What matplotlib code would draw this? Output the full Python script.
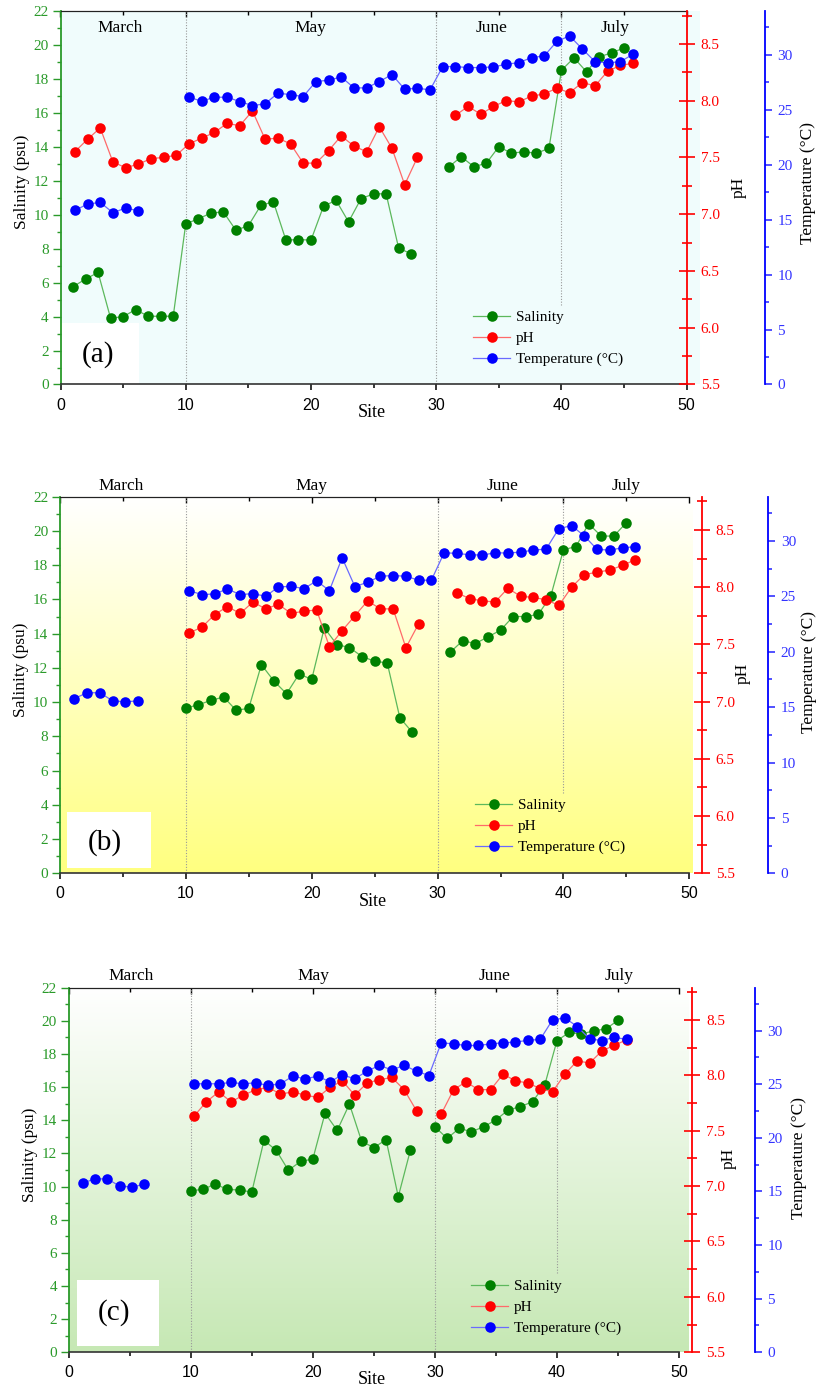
import numpy as np
import matplotlib
matplotlib.use("Agg")
import matplotlib.pyplot as plt
from matplotlib.ticker import MultipleLocator, FormatStrFormatter
from matplotlib.patches import Rectangle
from matplotlib.lines import Line2D

plt.rcParams['font.family'] = ['Liberation Serif', 'DejaVu Serif']

# each series is a list of runs: (first site, values); separate runs are not joined by a line
a_salinity = [(1, [5.76, 6.21, 6.60, 3.90, 4.00, 4.41, 4.02, 4.02, 4.02,
                   9.46, 9.76, 10.09, 10.17, 9.09, 9.35, 10.56, 10.76, 8.50, 8.54, 8.50,
                   10.50, 10.85, 9.58, 10.95, 11.23, 11.23, 8.03, 7.70]),
              (31, [12.81, 13.42, 12.83, 13.03, 14.01, 13.62, 13.71, 13.62, 13.91,
                    18.51, 19.24, 18.42, 19.30, 19.53, 19.83])]
a_ph = [(1, [7.55, 7.66, 7.76, 7.46, 7.41, 7.44, 7.49, 7.50, 7.52,
             7.62, 7.67, 7.72, 7.80, 7.78, 7.91, 7.66, 7.67, 7.62, 7.45, 7.45,
             7.56, 7.69, 7.60, 7.55, 7.77, 7.58, 7.26, 7.50]),
        (31, [7.87, 7.95, 7.88, 7.95, 8.00, 7.99, 8.04, 8.06, 8.11, 8.07,
              8.16, 8.13, 8.26, 8.31, 8.33])]
a_temp = [(1, [15.85, 16.42, 16.58, 15.64, 16.06, 15.82]),
          (10, [26.15, 25.79, 26.15, 26.15, 25.76, 25.39, 25.55, 26.52, 26.39, 26.21,
                27.58, 27.70, 28.00, 27.00, 27.00, 27.58, 28.21, 26.88, 26.97, 26.82,
                28.94, 28.94, 28.85, 28.85, 28.91, 29.15, 29.30, 29.76, 29.91, 31.24,
                31.73, 30.55, 29.39, 29.27, 29.39, 30.06])]

b_salinity = [(10, [9.65, 9.85, 10.10, 10.30, 9.52, 9.64, 12.19, 11.23, 10.49, 11.64,
                    11.33, 14.34, 13.36, 13.19, 12.66, 12.39, 12.29, 9.09, 8.23]),
              (31, [12.91, 13.59, 13.42, 13.81, 14.20, 15.00, 15.00, 15.12, 16.21,
                    18.90, 19.09, 20.42, 19.70, 19.70, 20.48])]
b_ph = [(10, [7.60, 7.65, 7.76, 7.83, 7.77, 7.87, 7.81, 7.85, 7.77, 7.79,
              7.80, 7.48, 7.62, 7.75, 7.88, 7.81, 7.81, 7.47, 7.68]),
        (31, [7.95, 7.90, 7.88, 7.87, 7.99, 7.92, 7.91, 7.89, 7.84, 8.00,
              8.11, 8.13, 8.15, 8.19, 8.24])]
b_temp = [(1, [15.78, 16.30, 16.30, 15.57, 15.48, 15.57]),
          (10, [25.52, 25.16, 25.22, 25.67, 25.16, 25.25, 25.01, 25.85, 25.91, 25.70,
                26.40, 25.52, 28.49, 25.88, 26.28, 26.82, 26.88, 26.82, 26.46, 26.46,
                28.94, 28.88, 28.76, 28.73, 28.94, 28.91, 29.00, 29.18, 29.27, 31.12,
                31.39, 30.45, 29.24, 29.18, 29.39, 29.48])]

c_salinity = [(10, [9.75, 9.83, 10.15, 9.83, 9.79, 9.67, 12.79, 12.19, 10.98, 11.52,
                    11.66, 14.42, 13.39, 14.98, 12.73, 12.35, 12.83, 9.39, 12.21]),
              (30, [13.61, 12.91, 13.51, 13.31, 13.61, 14.02, 14.62, 14.82, 15.12, 16.13,
                    18.80, 19.30, 19.20, 19.40, 19.51, 20.03])]
c_ph = [(10, [7.63, 7.76, 7.85, 7.76, 7.82, 7.87, 7.89, 7.83, 7.85, 7.82,
              7.80, 7.89, 7.95, 7.82, 7.93, 7.96, 7.98, 7.87, 7.68]),
        (30, [7.65, 7.87, 7.94, 7.87, 7.87, 8.01, 7.95, 7.93, 7.88, 7.85,
              8.01, 8.13, 8.11, 8.22, 8.27, 8.32])]
c_temp = [(1, [15.79, 16.17, 16.17, 15.49, 15.42, 15.67]),
          (10, [25.04, 25.04, 25.04, 25.16, 25.04, 25.13, 24.88, 25.04, 25.75, 25.50,
                25.75, 25.22, 25.88, 25.50, 26.22, 26.75, 26.34, 26.75, 26.22, 25.81,
                28.86, 28.76, 28.61, 28.61, 28.76, 28.86, 28.92, 29.10, 29.17, 31.00,
                31.18, 30.38, 29.23, 29.07, 29.38, 29.17])]

months = ["March", "May", "June", "July"]
month_bounds = [10, 30, 40]
series_names = ["Salinity", "pH", "Temperature (°C)"]

W, H = 817, 1387
SAL_C, PH_C, T_C = '#008000', '#ff0000', '#0000ff'
SAL_L, PH_L, T_L = '#5cb85c', '#ff6a6a', '#6a6aff'
AX_GREEN = '#2a9a2a'

# layout of each panel in pixels (label positions are glyph centres)
panels = [
    dict(data=(a_salinity, a_ph, a_temp), tag="(a)", box=(60.5, 11, 686.7, 384.5),
         bg='flat', bg_right=700, ph_x=686.7, t_x=765, sal_lab=(20, 182), ph_lab=(738, 187),
         t_lab=(806.7, 183), site_lab=(371.7, 411.7),
         tag_box=(61, 323, 139, 384.5), tag_xy=(98.3, 355), leg=(473, 315), marks_y=28,
         marks_x=(120, 310, 491.7, 615), last_line_from=305),
    dict(data=(b_salinity, b_ph, b_temp), tag="(b)", box=(60, 496.7, 689.3, 873.3),
         bg=(255, 255, 128), bg_right=693, ph_x=701.7, t_x=768.3, sal_lab=(19, 670),
         ph_lab=(741.7, 673.3), t_lab=(808, 671.7), site_lab=(373.3, 900.7),
         tag_box=(67, 811.7, 151, 867.7), tag_xy=(105, 843), leg=(475, 802.7), marks_y=486.5,
         marks_x=(121, 311.7, 502.7, 626), last_line_from=793),
    dict(data=(c_salinity, c_ph, c_temp), tag="(c)", box=(68.7, 987.7, 679, 1352.3),
         bg=(198, 232, 180), bg_right=688, ph_x=692.3, t_x=755, sal_lab=(28.3, 1155),
         ph_lab=(728, 1158.3), t_lab=(798, 1158.3), site_lab=(372.3, 1379.3),
         tag_box=(76.7, 1280, 159, 1346), tag_xy=(114, 1313), leg=(471, 1284), marks_y=976,
         marks_x=(131, 313.3, 494.3, 619.3), last_line_from=1273),
]
HALF_LABEL = 10  # half the height of an axis-title text box, px
HALF_LABEL_R = 7


def runs_to_xy(runs):
    xs, ys = [], []
    for start, vals in runs:
        if xs:
            xs.append(np.nan)
            ys.append(np.nan)
        xs.extend(range(start, start + len(vals)))
        ys.extend(vals)
    return np.array(xs, float), np.array(ys, float)


fig = plt.figure(figsize=(W / 100, H / 100), dpi=100)

for p in panels:
    l, t, r, b = p['box']
    rect = [l / W, (H - b) / H, (r - l) / W, (b - t) / H]

    def ax_xy(px, py):
        return (px - l) / (r - l), (b - py) / (b - t)

    # background
    bg_ax = fig.add_axes([l / W, (H - b) / H, (p['bg_right'] - l) / W, (b - t) / H], zorder=0)
    bg_ax.axis('off')
    if p['bg'] == 'flat':
        bg_ax.add_patch(Rectangle((0, 0), 1, 1, color='#f0fcfc', transform=bg_ax.transAxes))
    else:
        frac = np.linspace(0, 1, 256)[:, None, None]
        col = np.array(p['bg']) / 255.0
        grad = (1 - frac) * np.ones(3) + frac * col
        bg_ax.imshow(grad, aspect='auto', extent=[0, 1, 0, 1], transform=bg_ax.transAxes)
    bg_ax.set_xlim(0, 1)
    bg_ax.set_ylim(0, 1)

    sal, ph, temp = p['data']

    # salinity on the main layer
    ax = fig.add_axes(rect, zorder=1)
    ax.patch.set_visible(False)
    x, y = runs_to_xy(sal)
    ax.plot(x, y, '-', color=SAL_L, lw=0.9, zorder=3)
    ax.plot(x, y, 'o', color=SAL_C, ms=7.6, mec=SAL_C, mew=0, zorder=4)
    ax.set_xlim(0, 50)
    ax.set_ylim(0, 22)
    ax.spines['right'].set_visible(False)
    ax.spines['left'].set_color(AX_GREEN)
    ax.spines['left'].set_linewidth(1.3)
    ax.spines['top'].set_color('#222222')
    ax.spines['bottom'].set_color('#333333')
    ax.spines['bottom'].set_linewidth(1.2)
    ax.yaxis.set_major_locator(MultipleLocator(2))
    ax.yaxis.set_minor_locator(MultipleLocator(1))
    ax.xaxis.set_major_locator(MultipleLocator(10))
    ax.xaxis.set_minor_locator(MultipleLocator(5))
    ax.tick_params(axis='y', which='major', direction='out', length=5.5, width=1,
                   colors=AX_GREEN, labelsize=11, pad=3)
    ax.tick_params(axis='y', which='minor', direction='out', length=3, width=1, colors=AX_GREEN)
    ax.tick_params(axis='x', which='major', direction='out', length=4.5, width=1.1,
                   labelsize=11.5, pad=5, top=False)
    ax.tick_params(axis='x', which='minor', direction='out', length=3, width=1.1, top=False)
    for lab in ax.get_xticklabels():
        lab.set_fontfamily('Liberation Sans')
    top = ax.secondary_xaxis('top')
    top.xaxis.set_major_locator(MultipleLocator(10))
    top.xaxis.set_minor_locator(MultipleLocator(5))
    top.tick_params(which='major', direction='in', length=4, width=1, labeltop=False)
    top.tick_params(which='minor', direction='in', length=3, width=1)
    top.spines['top'].set_color('#222222')

    ax.set_ylabel("Salinity (psu)", fontsize=12.5)
    ax.yaxis.set_label_coords(*ax_xy(p['sal_lab'][0] + HALF_LABEL, p['sal_lab'][1]))
    ax.set_xlabel("Site", fontsize=13)
    ax.xaxis.set_label_coords(*ax_xy(p['site_lab'][0], p['site_lab'][1] - HALF_LABEL + 2))

    # month boundaries and names
    for xb in month_bounds:
        y0 = 0
        if xb == month_bounds[-1]:
            y0 = ax_xy(0, p['last_line_from'])[1]
        ax.axvline(xb, ymin=y0, ymax=1, color='#999999', ls=(0, (1, 1.5)), lw=0.8, zorder=2)
    for name, mx in zip(months, p['marks_x']):
        ax.text(*ax_xy(mx, p['marks_y']), name, transform=ax.transAxes, ha='center',
                va='center', fontsize=12.5, clip_on=False)

    bx0, by1 = ax_xy(p['tag_box'][0], p['tag_box'][1])
    bx1, by0 = ax_xy(p['tag_box'][2], p['tag_box'][3])
    ax.add_patch(Rectangle((bx0, by0), bx1 - bx0, by1 - by0, transform=ax.transAxes,
                           facecolor='white', edgecolor='none', zorder=1))
    ax.text(*ax_xy(*p['tag_xy']), p['tag'], transform=ax.transAxes, ha='center',
            va='center', fontsize=21, zorder=2)

    # pH and temperature sit on a second layer with its own site scale
    layer_xlim = (-0.13, 49.23)
    ax_ph = fig.add_axes(rect, zorder=2)
    ax_ph.patch.set_visible(False)
    x, y = runs_to_xy(ph)
    ax_ph.plot(x, y, '-', color=PH_L, lw=0.9, zorder=3)
    ax_ph.plot(x, y, 'o', color=PH_C, ms=7.6, mew=0, zorder=4)
    ax_ph.set_xlim(*layer_xlim)
    ax_ph.set_ylim(5.5, 8.79)
    ax_ph.xaxis.set_visible(False)
    for s in ('top', 'bottom', 'left'):
        ax_ph.spines[s].set_visible(False)
    ax_ph.spines['right'].set_position(('axes', ax_xy(p['ph_x'], 0)[0]))
    ax_ph.spines['right'].set_color(PH_C)
    ax_ph.spines['right'].set_linewidth(1.3)
    ax_ph.yaxis.tick_right()
    ax_ph.yaxis.set_label_position('right')
    ax_ph.yaxis.set_major_locator(MultipleLocator(0.5))
    ax_ph.yaxis.set_minor_locator(MultipleLocator(0.25))
    ax_ph.yaxis.set_major_formatter(FormatStrFormatter('%.1f'))
    ax_ph.tick_params(axis='y', which='major', direction='inout', length=12, width=1.2,
                      colors=PH_C, labelsize=11, pad=4)
    ax_ph.tick_params(axis='y', which='minor', direction='inout', length=7, width=1.2,
                      colors=PH_C)
    ax_ph.set_ylabel("pH", fontsize=12.5, color='black')
    ax_ph.yaxis.set_label_coords(*ax_xy(p['ph_lab'][0] - HALF_LABEL_R, p['ph_lab'][1]))

    ax_t = fig.add_axes(rect, zorder=3)
    ax_t.patch.set_visible(False)
    x, y = runs_to_xy(temp)
    ax_t.plot(x, y, '-', color=T_L, lw=0.9, zorder=3)
    ax_t.plot(x, y, 'o', color=T_C, ms=7.6, mew=0, zorder=4)
    ax_t.set_xlim(*layer_xlim)
    ax_t.set_ylim(0, 34)
    ax_t.xaxis.set_visible(False)
    for s in ('top', 'bottom', 'left'):
        ax_t.spines[s].set_visible(False)
    ax_t.spines['right'].set_position(('axes', ax_xy(p['t_x'], 0)[0]))
    ax_t.spines['right'].set_color(T_C)
    ax_t.spines['right'].set_linewidth(1.3)
    ax_t.yaxis.tick_right()
    ax_t.yaxis.set_label_position('right')
    ax_t.yaxis.set_major_locator(MultipleLocator(5))
    ax_t.yaxis.set_minor_locator(MultipleLocator(2.5))
    ax_t.tick_params(axis='y', which='major', direction='out', length=5, width=1.2,
                     colors='#3333ff', labelsize=11, pad=4)
    ax_t.tick_params(axis='y', which='minor', direction='out', length=3, width=1.2,
                     colors='#3333ff')
    ax_t.set_ylabel("Temperature (°C)", fontsize=12.5, color='black')
    ax_t.yaxis.set_label_coords(*ax_xy(p['t_lab'][0] - HALF_LABEL_R, p['t_lab'][1]))

    handles = [Line2D([], [], color=lc, lw=0.9, marker='o', ms=7.6, mfc=mc, mec=mc, mew=0)
               for lc, mc in ((SAL_L, SAL_C), (PH_L, PH_C), (T_L, T_C))]
    lx, ly = ax_xy(p['leg'][0], p['leg'][1] - 4.5)
    ax_t.legend(handles, series_names, loc='upper left', bbox_to_anchor=(lx, ly),
                bbox_transform=ax_t.transAxes, frameon=False, fontsize=11,
                borderpad=0, borderaxespad=0, handlelength=2.45, handletextpad=0.35,
                labelspacing=0.48)

fig.savefig("out.png", dpi=100)
